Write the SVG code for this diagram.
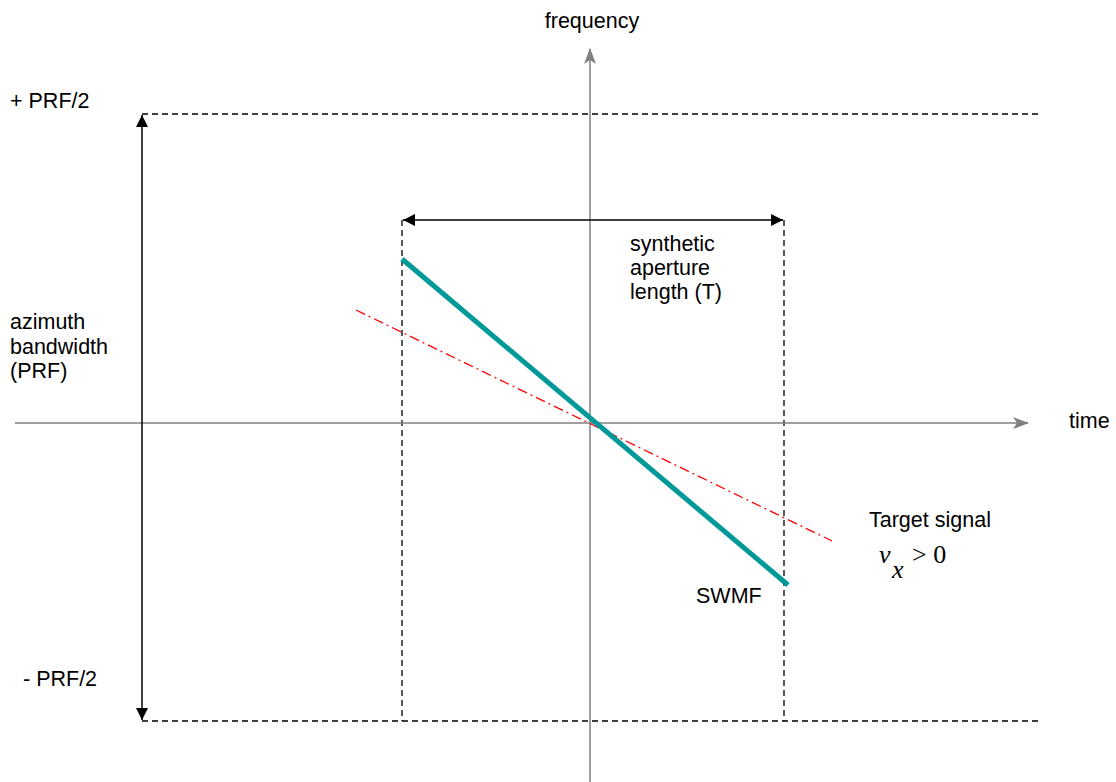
<svg xmlns="http://www.w3.org/2000/svg" width="1116" height="782" viewBox="0 0 1116 782">
<style>
text{font-family:"Liberation Sans",Arial,sans-serif;font-size:21.5px;fill:#000}
.dash{stroke:#000;stroke-width:1.3;stroke-dasharray:6,4;fill:none}
.axis{stroke:#808080;stroke-width:1.5;fill:none}
.blk{stroke:#000;stroke-width:1.5;fill:none}
.math{font-family:"Liberation Serif","Times New Roman",serif;font-size:26px}
</style>
<defs>
<marker id="ab" viewBox="0 0 12 12" refX="12" refY="6" markerWidth="12" markerHeight="12" markerUnits="userSpaceOnUse" orient="auto-start-reverse">
<path d="M0,0 L12,6 L0,12 z" fill="#000"/>
</marker>
<marker id="ag" viewBox="0 0 16 12" refX="15" refY="6" markerWidth="16" markerHeight="12" markerUnits="userSpaceOnUse" orient="auto">
<path d="M0,0 L16,6 L0,12 L4,6 z" fill="#808080"/>
</marker>
</defs>
<g id="guides">
<line class="dash" x1="142" y1="114" x2="1042" y2="114"/>
<line class="dash" x1="142" y1="721" x2="1042" y2="721"/>
<line class="dash" x1="402" y1="220" x2="402" y2="721"/>
<line class="dash" x1="784" y1="220" x2="784" y2="721"/>
</g>
<g id="connectors">
<line class="axis" x1="590" y1="782" x2="590" y2="49" marker-end="url(#ag)"/>
<line class="axis" x1="15" y1="423" x2="1028" y2="423" marker-end="url(#ag)"/>
<line class="blk" x1="142" y1="115" x2="142" y2="720" marker-start="url(#ab)" marker-end="url(#ab)"/>
<line class="blk" x1="403" y1="220" x2="783" y2="220" marker-start="url(#ab)" marker-end="url(#ab)"/>
</g>
<g id="target-signal">
<line x1="356" y1="310" x2="832" y2="541" stroke="#ff0000" stroke-width="1.3" stroke-dasharray="10,4,2,4"/>
</g>
<g id="swmf">
<line x1="402" y1="259" x2="788" y2="585" stroke="#009999" stroke-width="5"/>
</g>
<g id="labels">
<text x="592" y="28" text-anchor="middle">frequency</text>
<text x="1069" y="428">time</text>
<text x="10" y="108">+ PRF/2</text>
<text x="10" y="329">azimuth</text>
<text x="10" y="354">bandwidth</text>
<text x="10" y="378">(PRF)</text>
<text x="23" y="686">- PRF/2</text>
<text x="630" y="251">synthetic</text>
<text x="630" y="275">aperture</text>
<text x="630" y="299">length (T)</text>
<text x="869" y="527">Target signal</text>
<text x="696" y="603">SWMF</text>
<text class="math" x="879" y="563" style="font-style:italic">v</text>
<text class="math" x="892" y="578" style="font-style:italic">x</text>
<text class="math" x="912" y="563">&gt; 0</text>
</g>
</svg>
